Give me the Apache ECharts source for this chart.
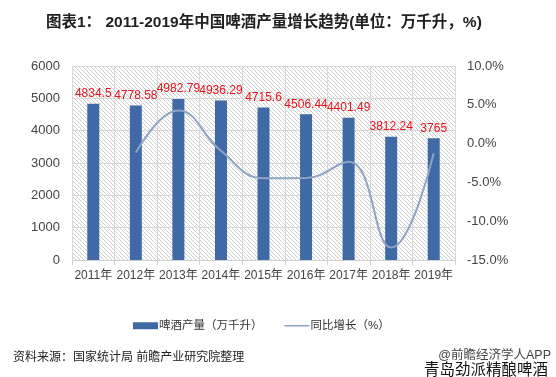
<!DOCTYPE html>
<html>
<head>
<meta charset="utf-8">
<script src="https://cdn.jsdelivr.net/npm/echarts@6/dist/echarts.min.js"></script>
<style>
  html, body { margin: 0; padding: 0; background: #fff; }
  #chart { width: 556px; height: 377px; }
</style>
</head>
<body>
<div id="chart"></div>
<script>
const years = ['2011年', '2012年', '2013年', '2014年', '2015年', '2016年', '2017年', '2018年', '2019年']
const output = [4834.5, 4778.58, 4982.79, 4936.29, 4715.6, 4506.44, 4401.49, 3812.24, 3765]
const growth = [null, -1.16, 4.27, -0.93, -4.47, -4.44, -2.33, -13.39, -1.24]

// diagonal hatch for the plot background
function hatch() {
  const c = document.createElement('canvas')
  c.width = 4
  c.height = 4
  const ctx = c.getContext('2d')
  ctx.fillStyle = '#ffffff'
  ctx.fillRect(0, 0, 4, 4)
  ctx.strokeStyle = '#cfcfcf'
  ctx.lineWidth = 1
  ctx.beginPath()
  ctx.moveTo(-1, -1)
  ctx.lineTo(5, 5)
  ctx.stroke()
  return c
}

const chart = echarts.init(document.getElementById('chart'))
const font = "'Liberation Sans', 'Noto Sans CJK SC', sans-serif"

chart.setOption({
  animation: false,
  textStyle: { fontFamily: font },
  title: [
    {
      text: '图表1： 2011-2019年中国啤酒产量增长趋势(单位：万千升，%)',
      left: 41,
      top: 10,
      textStyle: { fontSize: 15.5, fontWeight: 'bold', color: '#222', fontFamily: font }
    },
    {
      text: '资料来源：国家统计局 前瞻产业研究院整理',
      left: 8,
      top: 347,
      textStyle: { fontSize: 12, fontWeight: 'normal', color: '#222', fontFamily: font }
    },
    {
      text: '@前瞻经济学人APP',
      right: 0,
      top: 344,
      textStyle: { fontSize: 12.5, fontWeight: 'normal', color: '#444', fontFamily: font }
    },
    {
      text: '青岛劲派精酿啤酒',
      right: 3,
      top: 358,
      textStyle: { fontSize: 15.5, fontWeight: 'normal', color: '#111', fontFamily: font }
    }
  ],
  legend: {
    top: 315,
    left: 128,
    itemGap: 22,
    itemWidth: 25,
    itemHeight: 7,
    textStyle: { fontSize: 11.5, color: '#333', padding: [0, 0, 0, -4] },
    data: [
      { name: '啤酒产量（万千升）', icon: 'rect' },
      { name: '同比增长（%）', icon: 'path://M0,0H100V6H0Z' }
    ]
  },
  grid: {
    left: 72,
    right: 101,
    top: 66,
    bottom: 117,
    show: true,
    borderWidth: 0,
    backgroundColor: { image: hatch(), repeat: 'repeat' }
  },
  xAxis: {
    type: 'category',
    data: years,
    axisLine: { lineStyle: { color: '#d0d0d0' } },
    axisTick: { show: true, length: 5, lineStyle: { color: '#d0d0d0' } },
    axisLabel: { color: '#444', fontSize: 12, margin: 10, interval: 0 },
    splitLine: { show: true, lineStyle: { color: '#d9d9d9' } }
  },
  yAxis: [
    {
      type: 'value',
      min: 0,
      max: 6000,
      interval: 1000,
      axisLine: { show: false },
      axisTick: { show: false },
      axisLabel: { color: '#444', fontSize: 13, margin: 12, formatter: v => String(v) },
      splitLine: { lineStyle: { color: '#d9d9d9' } }
    },
    {
      type: 'value',
      min: -15,
      max: 10,
      interval: 5,
      axisLine: { show: false },
      axisTick: { show: false },
      axisLabel: { color: '#444', fontSize: 13, margin: 12, formatter: v => v.toFixed(1) + '%' },
      splitLine: { show: false }
    }
  ],
  series: [
    {
      name: '啤酒产量（万千升）',
      type: 'bar',
      data: output,
      barWidth: 12,
      itemStyle: { color: '#3f6aa5' },
      label: {
        show: true,
        position: 'top',
        distance: 4,
        color: '#e8141c',
        fontSize: 12,
        fontFamily: "'Liberation Sans', sans-serif"
      }
    },
    {
      name: '同比增长（%）',
      type: 'line',
      yAxisIndex: 1,
      data: growth,
      smooth: 0.45,
      showSymbol: false,
      symbol: 'none',
      lineStyle: { color: '#8fa4c4', width: 2 },
      itemStyle: { color: '#8fa4c4' }
    }
  ]
})
</script>
</body>
</html>
